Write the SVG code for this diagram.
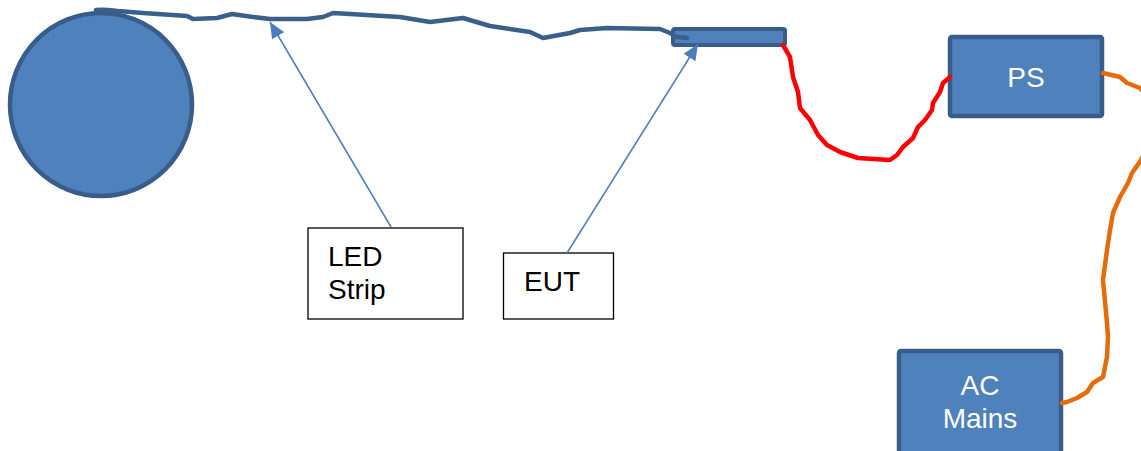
<svg xmlns="http://www.w3.org/2000/svg" width="1141" height="451" viewBox="0 0 1141 451">
  <style>
    .block { fill: #4F81BD; stroke: #385D8A; }
    .label { fill: #FFFFFF; stroke: #000000; stroke-width: 1.3; }
    .ltext { font-family: "Liberation Sans", Arial, sans-serif; font-size: 28px; fill: #000000; }
    .wtext { font-family: "Liberation Sans", Arial, sans-serif; font-size: 28px; fill: #FFFFFF; text-anchor: middle; }
    .wire { fill: none; stroke-linecap: round; stroke-linejoin: round; }
    .pointer { fill: none; stroke: #4A7EBB; stroke-width: 1.5; marker-end: url(#head); }
  </style>
  <defs>
    <marker id="head" markerUnits="userSpaceOnUse" markerWidth="18" markerHeight="14" refX="16" refY="7" orient="auto">
      <path d="M0,0 L16,7 L0,14 Z" fill="#4A7EBB"/>
    </marker>
  </defs>
  <rect width="1141" height="451" fill="#FFFFFF"/>

  <!-- LED reel -->
  <g id="reel">
    <ellipse class="block" cx="101" cy="104.5" rx="91" ry="91.5" stroke-width="4.5"/>
  </g>

  <!-- equipment under test -->
  <g id="eut">
    <rect class="block" x="673" y="29" width="112" height="16" rx="2" stroke-width="4"/>
  </g>

  <!-- power supply -->
  <g id="ps">
    <rect class="block" x="950" y="37" width="152" height="79" rx="2" stroke-width="4.5"/>
    <text class="wtext" x="1026" y="87">PS</text>
  </g>

  <!-- mains supply -->
  <g id="ac-mains">
    <rect class="block" x="899" y="351" width="162" height="110" rx="2" stroke-width="4.5"/>
    <text class="wtext" x="980" y="395">AC</text>
    <text class="wtext" x="980" y="428">Mains</text>
  </g>

  <!-- callout labels -->
  <g id="led-strip-label">
    <rect class="label" x="308" y="228" width="155" height="91"/>
    <text class="ltext" x="328" y="266">LED</text>
    <text class="ltext" x="328" y="299">Strip</text>
  </g>
  <g id="eut-label">
    <rect class="label" x="503.5" y="253" width="110" height="66"/>
    <text class="ltext" x="524" y="291">EUT</text>
  </g>

  <g id="connectors">
    <!-- LED strip running from the reel to the EUT -->
    <path class="wire" stroke="#3A5F8B" stroke-width="4.5" d="M96,10 C104,9 110,10 118,11 L143,13 L187,16 L193,19 L217,18 L232,14 L253,17 L270,19 L307,19 L323,17 L333,13 L350,14 L400,17 L430,22 L463,18 L490,26 L530,32 L543,38 L570,33 L580,30 L607,28 L660,29 L670,33 L677,37 L687,38"/>
    <!-- DC lead from the EUT to the power supply -->
    <path class="wire" stroke="#FF0000" stroke-width="4.5" d="M783,45 L790,57 L793,77 L798,92 L800,108 L810,120 L818,135 L827,145 L840,152 L858,158 L890,160 L897,155 L903,147 L913,138 L918,127 L925,120 L932,110 L933,103 L940,92 L943,83 L950,77"/>
    <!-- mains cord -->
    <path class="wire" stroke="#E46C0A" stroke-width="4.5" d="M1103,73 L1120,77 L1127,83 L1140,88 L1146,95 M1146,150 L1141,160 L1132,173 L1128,183 L1120,197 L1113,213 L1110,230 L1107,250 L1103,280 L1107,323 L1108,337 L1107,357 L1103,377 L1093,383 L1087,392 L1077,398 L1067,402 L1062,403"/>
    <!-- callout pointers -->
    <path class="pointer" d="M391,227 L270,22"/>
    <path class="pointer" d="M567,253 L698,44"/>
  </g>
</svg>
